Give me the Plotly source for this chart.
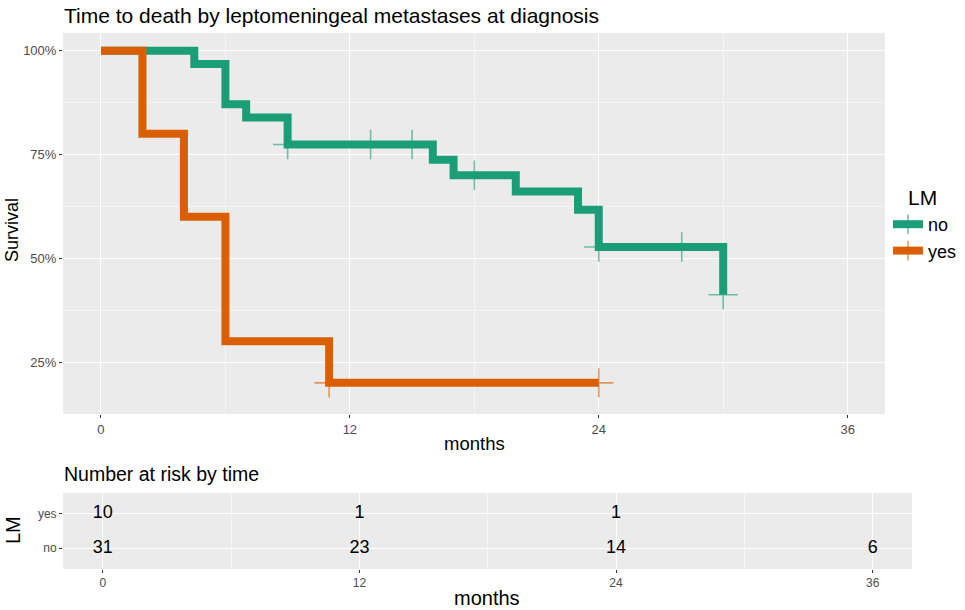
import plotly.graph_objects as go

W, H = 965, 610

# Kaplan-Meier steps (survival as fraction)
no_time = [0, 4.5, 6, 7, 9, 16, 17, 20, 23, 24, 30]
no_surv = [1.0, 0.968, 0.871, 0.839, 0.774, 0.737, 0.700, 0.661, 0.617, 0.527, 0.412]
no_cens_time = [9, 13, 15, 18, 24, 28, 30]
no_cens_surv = [0.774, 0.774, 0.774, 0.700, 0.527, 0.527, 0.412]

yes_time = [0, 2, 4, 6, 11, 24]
yes_surv = [1.0, 0.8, 0.6, 0.3, 0.2, 0.2]
yes_cens_time = [11, 24]
yes_cens_surv = [0.2, 0.2]

# number at risk table
risk_time = [0, 12, 24, 36]
risk_no = [31, 23, 14, 6]
risk_yes = [10, 1, 1]

GREEN = "#1B9E77"
ORANGE = "#D95F02"
GREEN_A = "rgba(27,158,119,0.6)"
ORANGE_A = "rgba(217,95,2,0.6)"
FONT = "Liberation Sans"
TICK = "#4D4D4D"


def px_x(p):
    return p / W


def px_y(p):
    return 1 - p / H


fig = go.Figure()

# survival curves
for t, s, col in [(no_time, no_surv, GREEN), (yes_time, yes_surv, ORANGE)]:
    fig.add_trace(go.Scatter(x=t, y=s, mode="lines", line=dict(color=col, width=8, shape="hv"),
                             showlegend=False, xaxis="x", yaxis="y", hoverinfo="skip"))

# censor marks
for t, s, col in [(no_cens_time, no_cens_surv, GREEN_A), (yes_cens_time, yes_cens_surv, ORANGE_A)]:
    fig.add_trace(go.Scatter(x=t, y=s, mode="markers",
                             marker=dict(symbol="cross-thin", size=21, line=dict(color=col, width=1.6)),
                             showlegend=False, xaxis="x", yaxis="y", hoverinfo="skip"))

# legend entries
for name, col, cola in [("no", GREEN, GREEN_A), ("yes", ORANGE, ORANGE_A)]:
    fig.add_trace(go.Scatter(x=[None], y=[None], mode="lines+markers", name=name,
                             line=dict(color=col, width=8),
                             marker=dict(symbol="cross-thin", size=14, line=dict(color=cola, width=1.6)),
                             xaxis="x", yaxis="y"))

# risk table
fig.add_trace(go.Scatter(x=risk_time, y=["no"] * len(risk_no), mode="text",
                         text=[str(v) for v in risk_no], textfont=dict(size=18, color="black", family=FONT),
                         showlegend=False, xaxis="x2", yaxis="y2", hoverinfo="skip"))
fig.add_trace(go.Scatter(x=risk_time[:len(risk_yes)], y=["yes"] * len(risk_yes), mode="text",
                         text=[str(v) for v in risk_yes], textfont=dict(size=18, color="black", family=FONT),
                         showlegend=False, xaxis="x2", yaxis="y2", hoverinfo="skip"))


def axis_style(size):
    return dict(showline=False, zeroline=False, showgrid=True, gridcolor="white", gridwidth=1.4,
                ticks="outside", ticklen=3, tickcolor="#333333", tickwidth=1,
                tickfont=dict(size=size, color=TICK, family=FONT))


minor_x = dict(dtick=6, tick0=0, showgrid=True, gridcolor="#F5F5F5", gridwidth=0.8, ticks="")

fig.update_layout(
    template="none",
    width=W, height=H,
    margin=dict(l=0, r=0, t=0, b=0),
    paper_bgcolor="white",
    plot_bgcolor="#EBEBEB",
    font=dict(family=FONT, color="black"),
    xaxis=dict(domain=[px_x(63), px_x(885)], range=[-1.83, 37.8], tick0=0, dtick=12,
               minor=minor_x, anchor="y", **axis_style(13)),
    yaxis=dict(domain=[px_y(414), px_y(33)], range=[0.125, 1.0425], tick0=0, dtick=0.25, tickformat=".0%",
               minor=dict(dtick=0.125, tick0=0, showgrid=True, gridcolor="#F5F5F5", gridwidth=0.8, ticks=""),
               anchor="x", **axis_style(13)),
    xaxis2=dict(domain=[px_x(63), px_x(912)], range=[-1.86, 37.84], tick0=0, dtick=12,
                minor=minor_x, anchor="y2", **axis_style(12)),
    yaxis2=dict(domain=[px_y(569), px_y(493)], type="category", categoryorder="array",
                categoryarray=["no", "yes"], range=[-0.6, 1.6], anchor="x2", **axis_style(12)),
    legend=dict(x=px_x(888), y=px_y(206), xanchor="left", yanchor="top",
                font=dict(size=18, family=FONT), itemwidth=30, tracegroupgap=0,
                bgcolor="rgba(0,0,0,0)"),
    annotations=[
        dict(text="Time to death by leptomeningeal metastases at diagnosis", x=px_x(62), y=px_y(15),
             xref="paper", yref="paper", xanchor="left", yanchor="middle", showarrow=False,
             font=dict(size=21, family=FONT)),
        dict(text="Survival", x=px_x(12), y=px_y(230), xref="paper", yref="paper", textangle=-90,
             xanchor="center", yanchor="middle", showarrow=False, font=dict(size=18, family=FONT)),
        dict(text="months", x=px_x(474), y=px_y(443), xref="paper", yref="paper",
             xanchor="center", yanchor="middle", showarrow=False, font=dict(size=18.5, family=FONT)),
        dict(text="LM", x=px_x(906), y=px_y(198), xref="paper", yref="paper",
             xanchor="left", yanchor="middle", showarrow=False, font=dict(size=21, family=FONT)),
        dict(text="Number at risk by time", x=px_x(62), y=px_y(474), xref="paper", yref="paper",
             xanchor="left", yanchor="middle", showarrow=False, font=dict(size=19.5, family=FONT)),
        dict(text="LM", x=px_x(13), y=px_y(530), xref="paper", yref="paper", textangle=-90,
             xanchor="center", yanchor="middle", showarrow=False, font=dict(size=20, family=FONT)),
        dict(text="months", x=px_x(487), y=px_y(598), xref="paper", yref="paper",
             xanchor="center", yanchor="middle", showarrow=False, font=dict(size=20, family=FONT)),
    ],
)

# drop the page's default body margin so the figure sits at the window's corner
fig.write_html("out.html", config={"displayModeBar": False},
               post_script="document.body.style.margin='0';")
